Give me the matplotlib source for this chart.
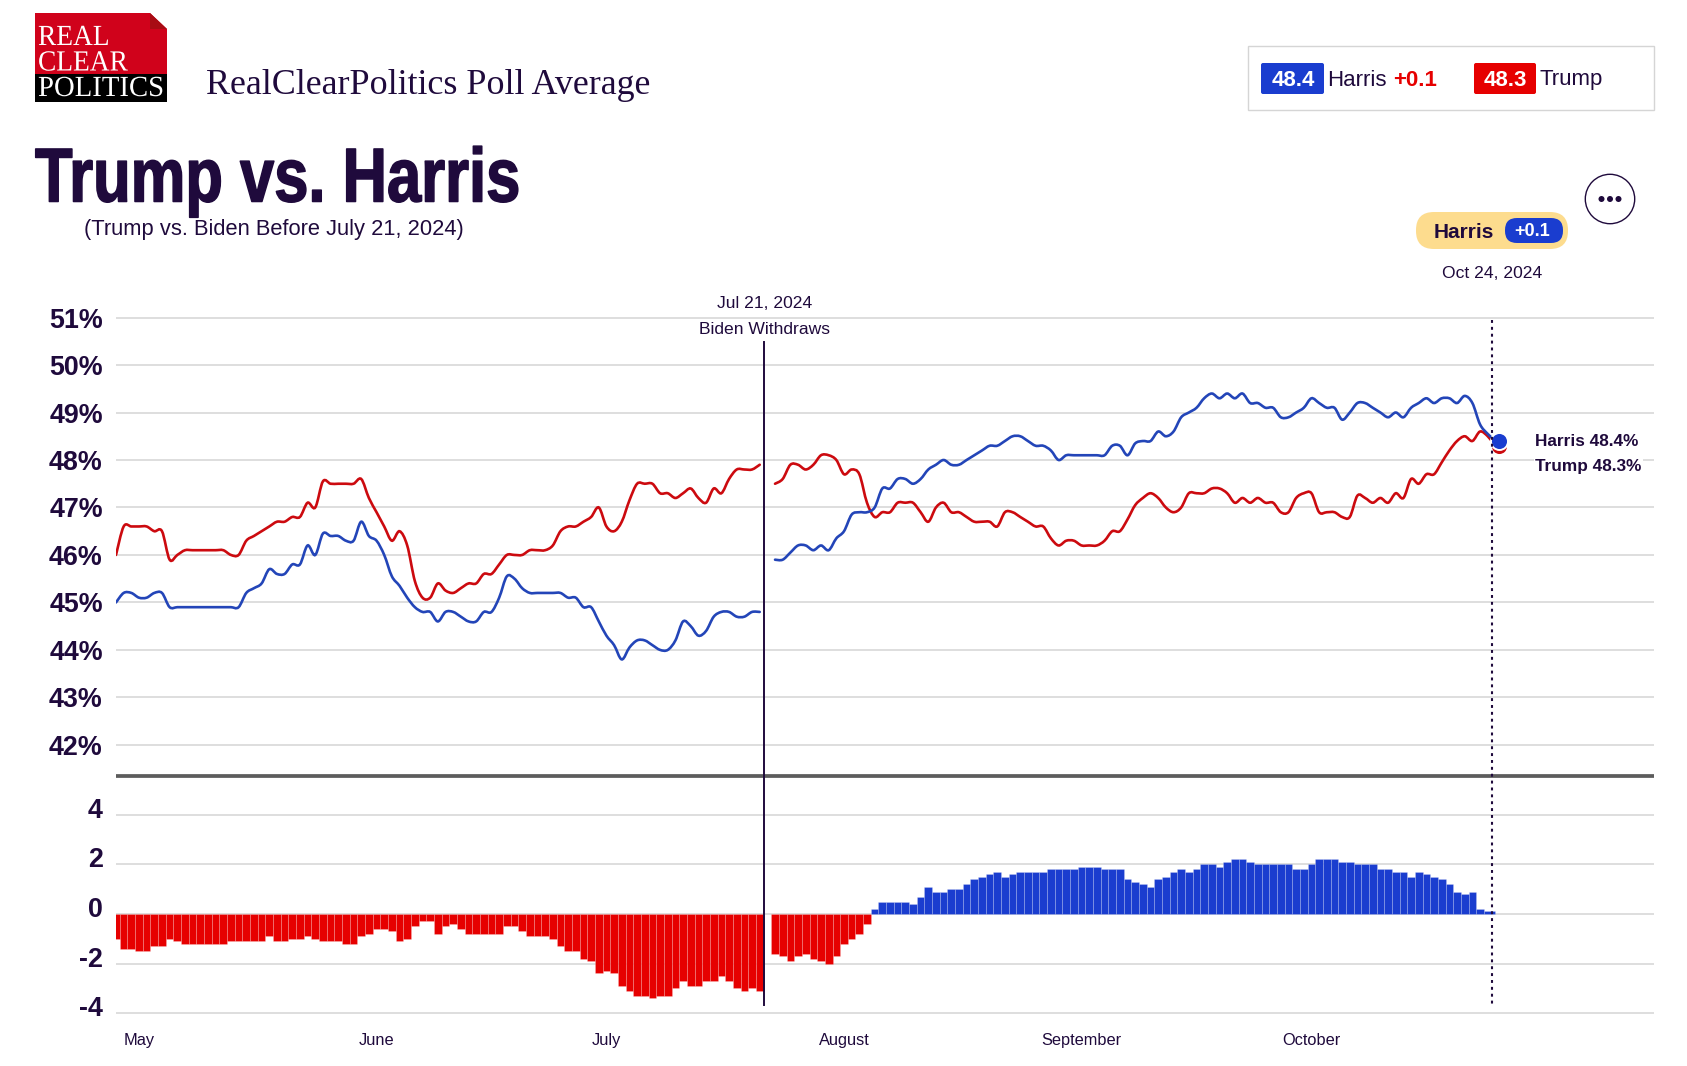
#!/usr/bin/env python3
# RCP poll average, Trump vs Harris
import numpy as np
import matplotlib
matplotlib.use('Agg')
import matplotlib.pyplot as plt
import matplotlib.patheffects as pe
from matplotlib.patches import FancyBboxPatch, Rectangle, Polygon, Circle, PathPatch
from matplotlib.path import Path
from matplotlib.transforms import Affine2D, ScaledTranslation

# one value per day, day 0 is Apr 28 2024, nan marks the Jul 21 gap
trump = [46.0,46.6,46.6,46.6,46.6,46.5,46.5,45.9,46.0,46.1,
         46.1,46.1,46.1,46.1,46.1,46.0,46.0,46.3,46.4,46.5,
         46.6,46.7,46.7,46.8,46.8,47.1,47.0,47.55,47.5,47.5,
         47.5,47.5,47.6,47.2,46.9,46.6,46.3,46.5,46.2,45.45,
         45.1,45.1,45.4,45.25,45.2,45.3,45.4,45.4,45.6,45.6,
         45.8,46.0,46.0,46.0,46.1,46.1,46.1,46.2,46.5,46.6,
         46.6,46.7,46.8,47.0,46.6,46.5,46.7,47.15,47.5,47.5,
         47.5,47.3,47.3,47.2,47.3,47.4,47.2,47.1,47.4,47.3,
         47.6,47.8,47.8,47.8,47.9,np.nan,47.5,47.6,47.9,47.9,
         47.8,47.9,48.1,48.1,48.0,47.7,47.8,47.7,47.1,46.8,
         46.9,46.9,47.1,47.1,47.1,46.9,46.7,47.0,47.1,46.9,
         46.9,46.8,46.7,46.7,46.7,46.6,46.9,46.9,46.8,46.7,
         46.6,46.6,46.35,46.2,46.3,46.3,46.2,46.2,46.2,46.3,
         46.5,46.5,46.75,47.05,47.2,47.3,47.2,47.0,46.9,47.0,
         47.3,47.3,47.3,47.4,47.4,47.3,47.1,47.2,47.1,47.2,
         47.1,47.1,46.9,46.9,47.2,47.3,47.3,46.9,46.9,46.9,
         46.8,46.8,47.25,47.2,47.1,47.2,47.1,47.3,47.2,47.6,
         47.5,47.7,47.7,47.95,48.2,48.4,48.5,48.4,48.6,48.5,
         48.3]

harris = [45.0,45.2,45.2,45.1,45.1,45.2,45.2,44.9,44.9,44.9,
          44.9,44.9,44.9,44.9,44.9,44.9,44.9,45.2,45.3,45.4,
          45.7,45.6,45.6,45.8,45.8,46.2,46.0,46.45,46.4,46.4,
          46.3,46.3,46.7,46.4,46.3,46.0,45.55,45.35,45.1,44.9,
          44.8,44.8,44.6,44.8,44.8,44.7,44.6,44.6,44.8,44.8,
          45.1,45.55,45.5,45.3,45.2,45.2,45.2,45.2,45.2,45.1,
          45.1,44.9,44.9,44.6,44.3,44.1,43.8,44.05,44.2,44.2,
          44.1,44.0,44.0,44.2,44.6,44.5,44.3,44.4,44.7,44.8,
          44.8,44.7,44.7,44.8,44.8,np.nan,45.9,45.9,46.05,46.2,
          46.2,46.1,46.2,46.1,46.35,46.5,46.85,46.9,46.9,47.0,
          47.4,47.4,47.6,47.6,47.5,47.6,47.8,47.9,48.0,47.9,
          47.9,48.0,48.1,48.2,48.3,48.3,48.4,48.5,48.5,48.4,
          48.3,48.3,48.2,48.0,48.1,48.1,48.1,48.1,48.1,48.1,
          48.3,48.3,48.1,48.35,48.4,48.4,48.6,48.5,48.6,48.9,
          49.0,49.1,49.3,49.4,49.3,49.4,49.3,49.4,49.2,49.2,
          49.1,49.1,48.9,48.9,49.0,49.1,49.3,49.2,49.1,49.1,
          48.85,49.0,49.2,49.2,49.1,49.0,48.9,49.0,48.9,49.1,
          49.2,49.3,49.2,49.3,49.3,49.2,49.35,49.2,48.75,48.55,
          48.4]

spread = [-1.0,-1.4,-1.4,-1.5,-1.5,-1.3,-1.3,-1.0,-1.1,-1.2,
          -1.2,-1.2,-1.2,-1.2,-1.2,-1.1,-1.1,-1.1,-1.1,-1.1,
          -0.9,-1.1,-1.1,-1.0,-1.0,-0.9,-1.0,-1.1,-1.1,-1.1,
          -1.2,-1.2,-0.9,-0.8,-0.6,-0.6,-0.7,-1.1,-1.0,-0.5,
          -0.3,-0.3,-0.8,-0.5,-0.4,-0.6,-0.8,-0.8,-0.8,-0.8,
          -0.8,-0.5,-0.5,-0.7,-0.9,-0.9,-0.9,-1.0,-1.3,-1.5,
          -1.5,-1.8,-1.9,-2.4,-2.3,-2.4,-2.9,-3.1,-3.3,-3.3,
          -3.4,-3.3,-3.3,-3.0,-2.7,-2.9,-2.9,-2.7,-2.7,-2.5,
          -2.7,-3.0,-3.1,-3.0,-3.1,np.nan,-1.6,-1.7,-1.9,-1.7,
          -1.6,-1.8,-1.9,-2.0,-1.7,-1.2,-1.0,-0.8,-0.4,0.2,
          0.5,0.5,0.5,0.5,0.4,0.7,1.1,0.9,0.9,1.0,
          1.0,1.2,1.4,1.5,1.6,1.7,1.5,1.6,1.7,1.7,
          1.7,1.7,1.8,1.8,1.8,1.8,1.9,1.9,1.9,1.8,
          1.8,1.8,1.4,1.3,1.2,1.1,1.4,1.5,1.7,1.8,
          1.7,1.8,2.0,2.0,1.9,2.1,2.2,2.2,2.1,2.0,
          2.0,2.0,2.0,2.0,1.8,1.8,2.0,2.2,2.2,2.2,
          2.1,2.1,2.0,2.0,2.0,1.8,1.8,1.7,1.7,1.5,
          1.7,1.6,1.5,1.4,1.2,0.9,0.8,0.9,0.2,0.1,
          0.1]

month_days = [3, 34, 64, 95, 126, 156]
month_labels = ['May', 'June', 'July', 'August', 'September', 'October']
top_ticks = [42, 43, 44, 45, 46, 47, 48, 49, 50, 51]
bottom_ticks = [-4, -2, 0, 2, 4]

W, H = 1687, 1066
INK = '#1f0a3c'
BLUE = '#1a3dcf'
RED = '#e60000'
LINE_BLUE = '#2345b8'
LINE_RED = '#cc0a0f'
GRID = '#dedede'

plt.rcParams['font.family'] = ['Liberation Sans', 'DejaVu Sans']
plt.rcParams['text.color'] = INK

fig = plt.figure(figsize=(W / 100, H / 100), dpi=100, facecolor='white')


def px_axes(left, top, right, bottom):
    return fig.add_axes([left / W, 1 - bottom / H, (right - left) / W, (bottom - top) / H])


def draw_smooth(axis, xs, ys, color):
    # the site draws its lines as a spline, so bend between the daily values
    xs, ys = np.asarray(xs, float), np.asarray(ys, float)
    breaks = np.where(np.isnan(ys))[0]
    for part_x, part_y in zip(np.split(xs, breaks), np.split(ys, breaks)):
        keep = ~np.isnan(part_y)
        pts = np.column_stack([part_x[keep], part_y[keep]])
        verts, codes = [pts[0]], [Path.MOVETO]
        for i in range(len(pts) - 1):
            before = pts[max(i - 1, 0)]
            after = pts[min(i + 2, len(pts) - 1)]
            verts += [pts[i] + (pts[i + 1] - before) / 6, pts[i + 1] - (after - pts[i]) / 6, pts[i + 1]]
            codes += [Path.CURVE4] * 3
        axis.add_patch(PathPatch(Path(verts, codes), fc='none', ec=color, lw=1.9, capstyle='round'))


class Squeeze(pe.AbstractPathEffect):
    # no condensed font here, so narrow the glyphs of a normal one around x0 (pixels)
    def __init__(self, sx, x0, stroke=0):
        super().__init__()
        self.sx, self.x0, self.stroke = sx, x0, stroke

    def draw_path(self, renderer, gc, tpath, affine, rgbFace=None):
        squeeze = Affine2D().translate(-self.x0, 0).scale(self.sx, 1).translate(self.x0, 0)
        gc0 = renderer.new_gc()
        gc0.copy_properties(gc)
        if self.stroke:
            gc0.set_linewidth(self.stroke)
            gc0.set_foreground(rgbFace)
        renderer.draw_path(gc0, tpath, affine + squeeze, rgbFace)
        gc0.restore()


days = np.arange(len(trump))
xlim = (0, 200.7)

# upper panel, the lines
ax = px_axes(116, 300, 1654, 780)
ax.set_xlim(xlim)
ax.set_ylim(41.26, 51.37)
draw_smooth(ax, days, trump, LINE_RED)
draw_smooth(ax, days, harris, LINE_BLUE)
ax.scatter([days[-1] + 0.5], [trump[-1]], s=150, color=LINE_RED, edgecolor='white', lw=1.4, zorder=5)
ax.scatter([days[-1] + 0.5], [harris[-1]], s=150, color=BLUE, edgecolor='white', lw=1.4, zorder=6)
ax.set_yticks(top_ticks)
ax.set_yticklabels([f'{t}%' for t in top_ticks])
ax.set_xticks([])

# lower panel, the spread
ax2 = px_axes(116, 780, 1654, 1030)
ax2.set_xlim(xlim)
ax2.set_ylim(-4.68, 5.4)
colors = [BLUE if v > 0 else RED for v in spread]
bars = ax2.bar(days, spread, width=1, color=colors, edgecolor=(1, 1, 1, 0.18), lw=0.7, zorder=3)
bars[-1].set_width(0.45)
ax2.set_yticks(bottom_ticks)
ax2.set_yticklabels([str(t) for t in bottom_ticks])
ax2.set_xticks(month_days)
ax2.set_xticklabels(month_labels, fontsize=11.8)
ax2.tick_params(axis='x', length=0, pad=2.5, colors=INK)

for a in (ax, ax2):
    a.set_axisbelow(True)
    a.grid(axis='y', color=GRID, lw=1.4)
    a.tick_params(axis='y', length=0, pad=9.5, labelsize=19.4, colors=INK)
    for lab in a.get_yticklabels():
        lab.set_fontweight('bold')
    for s in a.spines.values():
        s.set_visible(False)

# the lower labels sit 7px above their gridlines
lift = ScaledTranslation(0, 7 / 100, fig.dpi_scale_trans)
for lab in ax2.get_yticklabels():
    lab.set_transform(lab.get_transform() + lift)

# page furniture in pixel coordinates
ov = fig.add_axes([0, 0, 1, 1], zorder=10)
ov.set_xlim(0, W)
ov.set_ylim(H, 0)
ov.axis('off')
ov.patch.set_alpha(0)


def put(x, y, s, size, ha='left', weight='normal', color=INK, family=None, **kw):
    if family is None:
        family = ['Liberation Sans', 'DejaVu Sans']
    return ov.text(x, y, s, fontsize=size, ha=ha, va='center', fontweight=weight,
                   color=color, family=family, **kw)


def rbox(x0, y0, x1, y1, r, color):
    ov.add_patch(FancyBboxPatch((x0, y0), x1 - x0, y1 - y0, boxstyle=f'round,pad=0,rounding_size={r}',
                                fc=color, ec='none'))


ov.plot([116, 1654], [776, 776], color='#5c5c5c', lw=2.7, solid_capstyle='butt')
ov.plot([764, 764], [342, 1005], color=INK, lw=1.4)
ov.plot([1492, 1492], [320, 1005], color=INK, lw=1.5, dashes=(1.4, 1.9))

# logo
ov.add_patch(Polygon([(35, 13), (150, 13), (167, 29), (167, 74), (35, 74)], fc='#d0021b', ec='none'))
ov.add_patch(Polygon([(150, 13), (167, 29), (150, 29)], fc='#a80c14', ec='none'))
ov.add_patch(Rectangle((35, 74), 132, 28, fc='#000000', ec='none'))
serif = ['Liberation Serif', 'DejaVu Serif']
put(38, 38, 'REAL', 21, color='white', family=serif, path_effects=[Squeeze(0.94, 38)])
put(38, 63.5, 'CLEAR', 21, color='white', family=serif, path_effects=[Squeeze(0.94, 38)])
put(38, 89, 'POLITICS', 21, color='white', family=serif, path_effects=[Squeeze(0.985, 38)])

put(206, 86, 'RealClearPolitics Poll Average', 25.9, family=serif)
put(35, 182, 'Trump vs. Harris', 55, weight='bold', family=['Liberation Sans', 'DejaVu Sans'],
    path_effects=[Squeeze(0.805, 35, stroke=1.1)])
put(84, 229, '(Trump vs. Biden Before July 21, 2024)', 15.75)

# legend box top right
ov.add_patch(Rectangle((1248, 46), 406, 64, fc='white', ec='#d5d5d5', lw=1))
rbox(1261, 63, 1324, 94, 2, BLUE)
put(1293, 80, '48.4', 16, ha='center', weight='bold', color='white')
put(1327, 80, 'Harris', 16)
put(1393, 80, '+0.1', 16, weight='bold', color=RED)
rbox(1474, 63, 1536, 94, 2, RED)
put(1505, 80, '48.3', 16, ha='center', weight='bold', color='white')
put(1540, 80, 'Trump', 16)

# current leader pill
rbox(1416, 212, 1568, 249, 18, '#fddc8e')
rbox(1505, 218, 1563, 243, 12, BLUE)
put(1434, 232, 'Harris', 15, weight='bold')
put(1532, 231, '+0.1', 13, ha='center', weight='bold', color='white')
put(1492, 274, 'Oct 24, 2024', 12.6, ha='center')

# more button
ov.add_patch(Circle((1610, 199), 24.7, fc='white', ec=INK, lw=1))
for dx in (-8.5, 0, 8.5):
    ov.add_patch(Circle((1610 + dx, 199), 3, fc=INK, ec='none'))

put(765, 304, 'Jul 21, 2024', 12.6, ha='center')
put(765, 330, 'Biden Withdraws', 12.6, ha='center')

box = dict(fc='white', ec='none', pad=1)
put(1535, 441, 'Harris 48.4%', 12.4, weight='bold', bbox=box)
put(1535, 467, 'Trump 48.3%', 12.4, weight='bold', bbox=box)

fig.savefig('out.png', dpi=100)
